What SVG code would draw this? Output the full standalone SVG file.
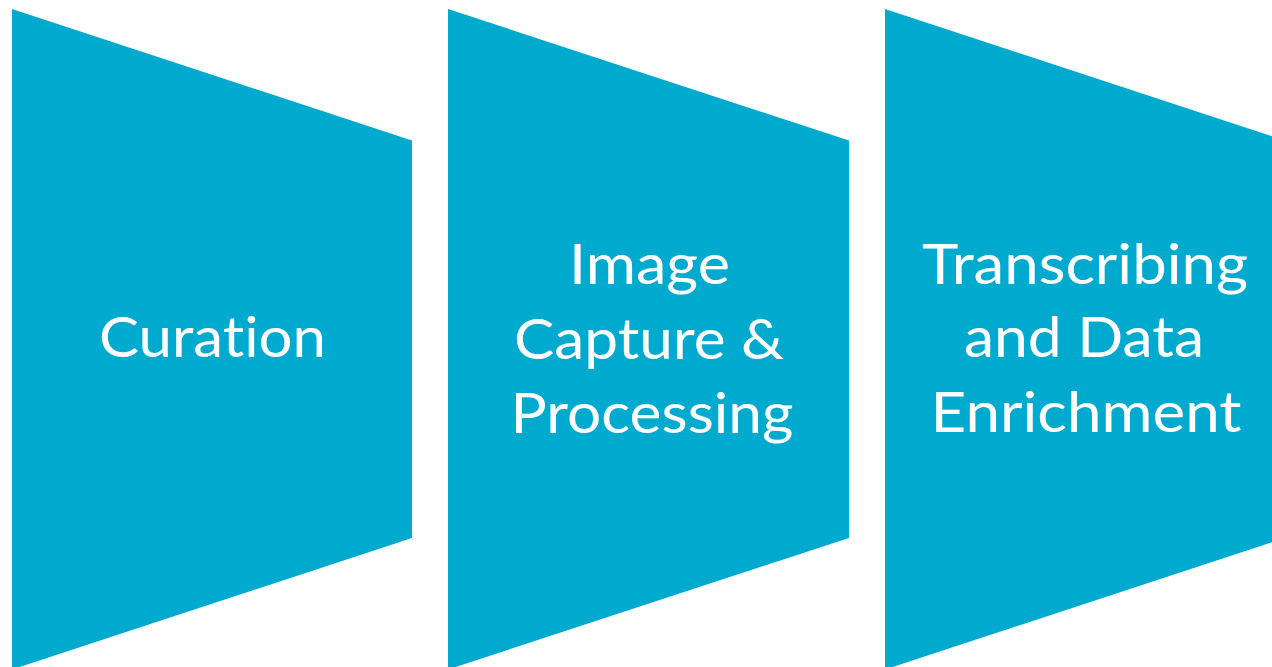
<svg xmlns="http://www.w3.org/2000/svg" width="1272" height="667" viewBox="0 0 1272 667">
<style>
.shape{fill:#00AACF;}
.lbl{fill:#FFFFFF;font-family:Lato,"Open Sans","Liberation Sans",sans-serif;font-size:56px;text-anchor:middle;font-variant-ligatures:none;font-feature-settings:"liga" 0,"clig" 0;}
</style>
<rect width="1272" height="667" fill="#FFFFFF"/>
<g id="node-curation">
<polygon class="shape" points="12,9 412,140.5 412,538 12,669.5"/>
<text class="lbl" x="212.5" y="356.5" textLength="227" lengthAdjust="spacingAndGlyphs">Curation</text>
</g>
<g id="node-image-capture">
<polygon class="shape" points="448,9 849,140.5 849,538 448,669.5"/>
<text class="lbl" x="649.5" y="284" textLength="161" lengthAdjust="spacingAndGlyphs">Image</text>
<text class="lbl" x="649" y="358.5" textLength="270" lengthAdjust="spacingAndGlyphs">Capture &amp;</text>
<text class="lbl" x="652" y="433" textLength="283" lengthAdjust="spacingAndGlyphs">Processing</text>
</g>
<g id="node-transcribing">
<polygon class="shape" points="885,9 1285,140.5 1285,538 885,669.5"/>
<text class="lbl" x="1085" y="283.5" textLength="326" lengthAdjust="spacingAndGlyphs">Transcribing</text>
<text class="lbl" x="1084" y="357" textLength="240" lengthAdjust="spacingAndGlyphs">and Data</text>
<text class="lbl" x="1086" y="431.5" textLength="311" lengthAdjust="spacingAndGlyphs">Enrichment</text>
</g>
<g id="connectors"></g>
</svg>
